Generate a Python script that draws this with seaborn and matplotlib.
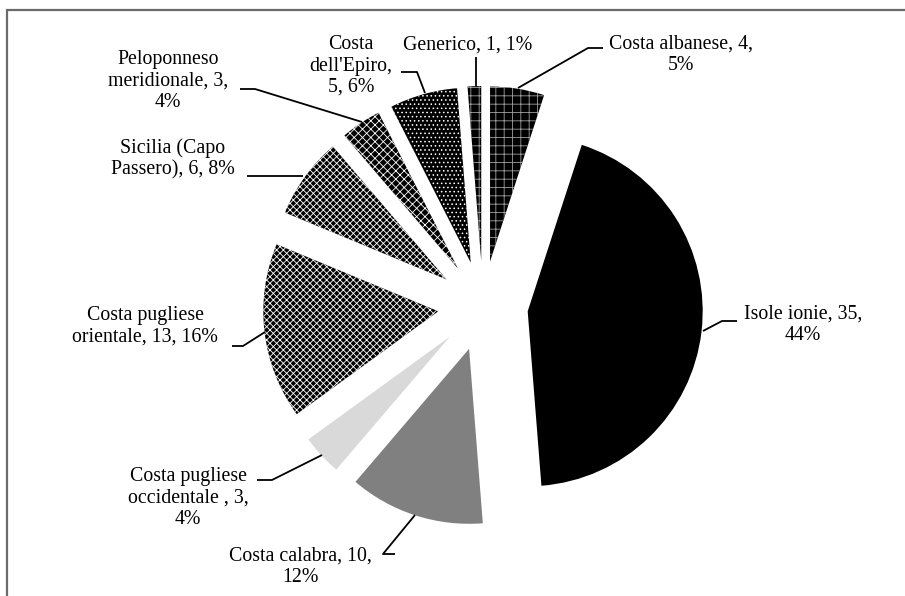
import matplotlib
matplotlib.use("Agg")
import matplotlib.pyplot as plt
import seaborn as sns

# data, clockwise from the top
categories = ["Costa albanese", "Isole ionie", "Costa calabra",
              "Costa pugliese occidentale", "Costa pugliese orientale",
              "Sicilia (Capo Passero)", "Peloponneso meridionale",
              "Costa dell'Epiro", "Generico"]
counts = [4, 35, 10, 3, 13, 6, 3, 5, 1]
labels = ["Costa albanese, 4,\n5%",
          "Isole ionie, 35,\n44%",
          "Costa calabra, 10,\n12%",
          "Costa pugliese\noccidentale , 3,\n4%",
          "Costa pugliese\norientale, 13, 16%",
          "Sicilia (Capo\nPassero), 6, 8%",
          "Peloponneso\nmeridionale, 3,\n4%",
          "Costa\ndell'Epiro,\n5, 6%",
          "Generico, 1, 1%"]

# styles
face_colors = ["black", "black", "#808080", "#d9d9d9", "black",
               "black", "black", "black", "black"]
hatch_colors = ["#a0a0a0", "black", "#808080", "#d9d9d9", "white",
                "white", "white", "white", "#a0a0a0"]
hatches = ["++", "", "", "", "xxxxx", "xxxxx", "xxxx", "....", "++"]

# layout in pixels (pie centre, radius, label centres, leader lines)
W, H = 905, 596
CX, CY, R = 483, 306, 175
label_pos = [(681, 55), (803, 325), (300, 567), (188, 498), (145, 326),
             (173, 159), (168, 81), (351, 66), (468, 45)]
leaders = [[(603, 48), (588, 48), (518, 88)],
           [(737, 321), (722, 321), (703, 331)],
           [(395, 554), (383, 554), (415, 515)],
           [(257, 480), (272, 480), (322, 455)],
           [(232, 346), (243, 346), (265, 332)],
           [(247, 176), (303, 176)],
           [(240, 89), (255, 89), (362, 122)],
           [(401, 72), (417, 72), (425, 93)],
           [(476, 57), (476, 86)]]


def px(x, y):
    return (x - CX) / R, (CY - y) / R


sns.set_theme(style="white")
plt.rcParams["font.family"] = ["Liberation Serif", "DejaVu Serif"]
plt.rcParams["hatch.linewidth"] = 0.6

fig = plt.figure(figsize=(W / 100, H / 100), dpi=100)
ax = fig.add_axes([0, 0, 1, 1])

wedges, _ = ax.pie(counts, startangle=90, counterclock=False,
                   explode=[45 / R] * len(counts), colors=face_colors,
                   wedgeprops=dict(linewidth=0))
for w, h, hc in zip(wedges, hatches, hatch_colors):
    w.set_edgecolor(hc)
    if h:
        w.set_hatch(h)

for text, pos, pts in zip(labels, label_pos, leaders):
    x, y = px(*pos)
    ax.text(x, y, text, ha="center", va="center", fontsize=14.3,
            linespacing=1.17, color="black")
    xs, ys = zip(*[px(*p) for p in pts])
    ax.plot(xs, ys, color="black", lw=1.3, solid_capstyle="butt")

ax.set_xlim(-CX / R, (W - CX) / R)
ax.set_ylim((CY - H) / R, CY / R)
ax.set_aspect("equal")
ax.axis("off")

# chart border (partly cropped in the original)
fig.add_artist(plt.Rectangle((7 / W, -0.1), 1.2, (H - 10) / H + 0.1,
                             transform=fig.transFigure, fill=False,
                             edgecolor="#6b6b6b", lw=1.6))

fig.savefig("out.png", dpi=100, facecolor="white")
